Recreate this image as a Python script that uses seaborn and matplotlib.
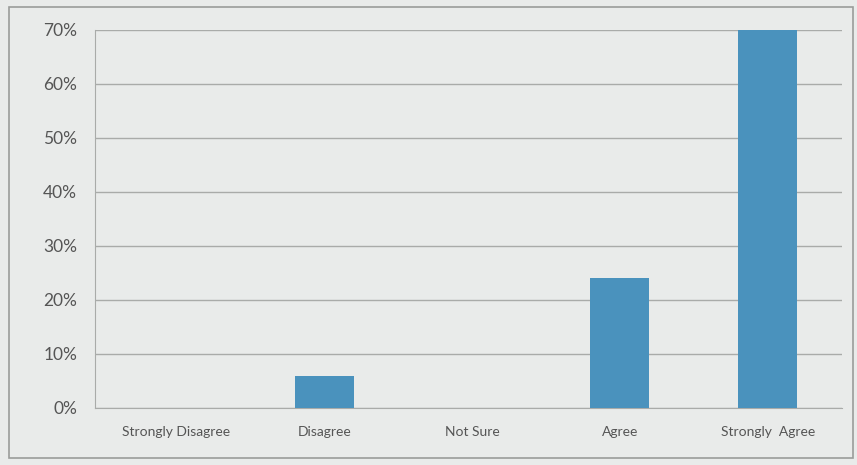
import matplotlib
matplotlib.use('Agg')
import matplotlib.pyplot as plt
import seaborn as sns
import pandas as pd
from matplotlib.patches import Rectangle
from matplotlib.ticker import PercentFormatter

# Survey responses (share of respondents)
categories = ['Strongly Disagree', 'Disagree', 'Not Sure', 'Agree', 'Strongly  Agree']
shares = [0.0, 0.06, 0.0, 0.24, 0.70]
y_ticks = [0.0, 0.1, 0.2, 0.3, 0.4, 0.5, 0.6, 0.7]

df = pd.DataFrame({'Response': categories, 'Share': shares})

sns.set_style('white')
plt.rcParams['font.family'] = ['Lato', 'DejaVu Sans']

bg = '#e9ebea'
text_col = '#555555'
grid_col = '#a9aba9'

fig = plt.figure(figsize=(8.57, 4.65), dpi=100, facecolor=bg)
ax = fig.add_axes([0.111, 0.1226, 0.871, 0.8129])
ax.set_facecolor(bg)

sns.barplot(data=df, x='Response', y='Share', color='#4a92bd', width=0.4,
            saturation=1, linewidth=0, ax=ax, zorder=3)

ax.set_ylim(0, 0.7)
ax.set_yticks(y_ticks)
ax.yaxis.set_major_formatter(PercentFormatter(1.0, decimals=0))
ax.set_xlim(-0.55, len(categories) - 0.5)

ax.grid(axis='y', color=grid_col, linewidth=1.0, zorder=0)
ax.set_xlabel('')
ax.set_ylabel('')

for s in ['top', 'right']:
    ax.spines[s].set_visible(False)
ax.spines['left'].set_color(grid_col)
ax.spines['bottom'].set_color(grid_col)

ax.tick_params(axis='y', colors=text_col, labelsize=12.5, length=7, color=grid_col, pad=6)
ax.tick_params(axis='x', colors=text_col, labelsize=10, length=0, pad=13)

# minor ticks between categories on the x axis
ax.set_xticks([i + 0.5 for i in range(len(categories) - 1)], minor=True)
ax.tick_params(axis='x', which='minor', length=4, color=grid_col)

# outer chart border
fig.patches.append(Rectangle((0.011, 0.015), 0.984, 0.97, transform=fig.transFigure,
                             fill=False, edgecolor='#9a9c9a', linewidth=1.2))

fig.savefig('out.png', dpi=100, facecolor=bg)
